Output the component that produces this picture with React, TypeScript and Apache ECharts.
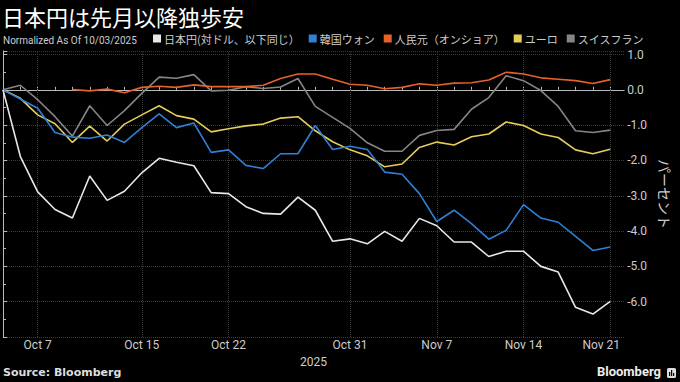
import React, { useEffect, useRef } from "react";
import * as echarts from "echarts";

const dates = [
  "2025-10-03", "2025-10-06", "2025-10-07", "2025-10-08", "2025-10-09", "2025-10-10",
  "2025-10-13", "2025-10-14", "2025-10-15", "2025-10-16", "2025-10-17",
  "2025-10-20", "2025-10-21", "2025-10-22", "2025-10-23", "2025-10-24",
  "2025-10-27", "2025-10-28", "2025-10-29", "2025-10-30", "2025-10-31",
  "2025-11-03", "2025-11-04", "2025-11-05", "2025-11-06", "2025-11-07",
  "2025-11-10", "2025-11-11", "2025-11-12", "2025-11-13", "2025-11-14",
  "2025-11-17", "2025-11-18", "2025-11-19", "2025-11-20", "2025-11-21",
];

const labelDates = ["2025-10-07", "2025-10-15", "2025-10-22", "2025-10-31", "2025-11-07", "2025-11-14", "2025-11-21"];
const labelTexts = ["Oct 7", "Oct 15", "Oct 22", "Oct 31", "Nov 7", "Nov 14", "Nov 21"];

const seriesNames = ["日本円(対ドル、以下同じ）", "韓国ウォン", "人民元（オンショア）", "ユーロ", "スイスフラン"];
const seriesColors = ["#e8e8e8", "#2f80d6", "#e5622a", "#e4cd5a", "#858585"];

const yen = [0, -1.89, -2.89, -3.39, -3.63, -2.44, -3.13, -2.87, -2.35, -1.94, -2.05, -2.15, -2.91, -2.94, -3.31, -3.5, -3.52, -3.04, -3.41, -4.29, -4.22, -4.36, -4.01, -4.29, -3.64, -3.85, -4.31, -4.31, -4.72, -4.57, -4.57, -5.0, -5.16, -6.16, -6.35, -5.99];
const won = [0, -0.26, -0.52, -1.21, -1.34, -1.37, -1.28, -1.49, -1.07, -0.68, -1.07, -0.94, -1.77, -1.7, -2.14, -2.23, -1.81, -1.81, -1.01, -1.69, -1.6, -1.69, -2.33, -2.39, -2.94, -3.73, -3.41, -3.79, -4.23, -3.98, -3.25, -3.63, -3.75, -4.15, -4.55, -4.45];
const yuan = [null, null, null, null, 0.01, -0.03, 0.02, -0.08, 0.07, 0.1, 0.07, 0.14, 0.09, 0.09, 0.09, 0.13, 0.32, 0.45, 0.45, 0.3, 0.16, 0.13, 0.03, 0.07, 0.17, 0.13, 0.19, 0.2, 0.28, 0.5, 0.45, 0.34, 0.3, 0.26, 0.18, 0.29];
const euro = [0, -0.24, -0.71, -0.96, -1.49, -1.03, -1.45, -0.97, -0.71, -0.45, -0.73, -0.83, -1.19, -1.1, -1.02, -0.97, -0.8, -0.76, -1.16, -1.47, -1.7, -1.87, -2.18, -2.1, -1.63, -1.48, -1.56, -1.33, -1.25, -0.91, -1.01, -1.25, -1.35, -1.7, -1.81, -1.68];
const franc = [0, 0.13, -0.28, -0.76, -1.31, -0.45, -1.01, -0.59, -0.1, 0.36, 0.33, 0.43, -0.03, -0.01, 0.09, 0.04, 0.08, 0.32, -0.47, -0.78, -1.09, -1.5, -1.74, -1.74, -1.29, -1.15, -1.12, -0.55, -0.22, 0.4, 0.26, -0.02, -0.47, -1.16, -1.21, -1.14];

const allValues = [yen, won, yuan, euro, franc];

const CJK = '"Noto Sans CJK JP", "Noto Sans", sans-serif';
const LATIN = 'Roboto, "Noto Sans", sans-serif';

export default function App() {
  const ref = useRef<HTMLDivElement>(null);

  useEffect(() => {
    if (!ref.current) return;
    const chart = echarts.init(ref.current, null, { renderer: "svg" });

    const labelMap: Record<number, string> = {};
    labelDates.forEach((d, k) => {
      labelMap[dates.indexOf(d)] = labelTexts[k];
    });
    const lastIdx = dates.length - 1;

    const series: any[] = allValues.map((vals, s) => ({
      name: seriesNames[s],
      type: "line",
      showSymbol: false,
      symbol: "none",
      color: seriesColors[s],
      lineStyle: { width: 1.6, color: seriesColors[s] },
      data: vals
        .map((v, i) => [i, v])
        .filter((p) => p[1] !== null && p[1] !== undefined),
      z: 10 - s,
    }));

    series[0].markLine = {
      silent: true,
      symbol: ["none", "none"],
      label: { show: false },
      lineStyle: { color: "#3c3c3c", type: "dotted", width: 1 },
      data: labelDates.map((d) => ({ xAxis: dates.indexOf(d) })),
      z: 1,
    };

    chart.setOption({
      animation: false,
      backgroundColor: "#000",
      grid: { left: 0, right: 48, top: 51, bottom: 45, containLabel: false },
      legend: {
        data: seriesNames,
        left: 153,
        top: 33,
        padding: 0,
        icon: "rect",
        itemWidth: 8,
        itemHeight: 8,
        itemGap: 9,
        textStyle: { color: "#cccccc", fontSize: 11, fontFamily: CJK, padding: [0, 0, 0, -2] },
      },
      graphic: [
        {
          type: "text",
          left: 2,
          top: 5,
          style: { text: "日本円は先月以降独歩安", fill: "#ffffff", fontSize: 22, fontFamily: CJK },
        },
        {
          type: "text",
          left: 3,
          top: 35,
          style: { text: "Normalized As Of 10/03/2025", fill: "#cccccc", fontSize: 10, fontFamily: LATIN },
        },
        {
          type: "text",
          left: 3,
          top: 367,
          style: { text: "Source: Bloomberg", fill: "#dddddd", fontSize: 11, fontWeight: "bold", fontFamily: '"DejaVu Sans", sans-serif' },
        },
        {
          type: "text",
          right: 19,
          top: 365,
          style: { text: "Bloomberg", fill: "#eeeeee", fontSize: 13, fontWeight: "bold", fontFamily: LATIN },
        },
        {
          type: "group",
          right: 4,
          top: 368,
          children: [
            { type: "rect", shape: { x: 0, y: 0, width: 9, height: 10, r: 1.5 }, style: { fill: "#dddddd" } },
            { type: "rect", shape: { x: 2, y: 4, width: 1.2, height: 4 }, style: { fill: "#000" } },
            { type: "rect", shape: { x: 4, y: 2, width: 1.2, height: 6 }, style: { fill: "#000" } },
            { type: "rect", shape: { x: 6, y: 5, width: 1.2, height: 3 }, style: { fill: "#000" } },
          ],
        },
      ],
      xAxis: {
        type: "value",
        min: 0,
        max: 35.8,
        interval: 1,
        name: "2025",
        nameLocation: "middle",
        nameGap: 13,
        nameTextStyle: { color: "#cccccc", fontSize: 12, fontFamily: LATIN },
        splitLine: { show: false },
        axisLine: { show: true, lineStyle: { color: "#bbbbbb", width: 1 } },
        axisTick: { show: true, inside: true, length: 3, lineStyle: { color: "#bbbbbb" } },
        axisLabel: {
          color: "#cccccc",
          fontSize: 12,
          fontFamily: LATIN,
          margin: 2,
          showMaxLabel: false,
          formatter: (v: number) => {
            const i = Math.round(v);
            if (Math.abs(v - i) > 1e-6) return "";
            const t = labelMap[i];
            if (!t) return "";
            return i === lastIdx ? "{r|" + t + "}" : t;
          },
          rich: {
            r: { color: "#cccccc", fontSize: 12, fontFamily: LATIN, padding: [0, 18, 0, 0] },
          },
        },
      },
      yAxis: {
        type: "value",
        position: "right",
        min: -7,
        max: 1.1,
        interval: 1,
        name: "パーセント",
        nameLocation: "middle",
        nameRotate: -90,
        nameGap: 20,
        nameTextStyle: { color: "#cccccc", fontSize: 14, fontFamily: CJK },
        axisLine: { show: true, lineStyle: { color: "#bbbbbb", width: 1 } },
        axisTick: { show: true, length: 4, lineStyle: { color: "#bbbbbb" } },
        minorTick: { show: true, splitNumber: 2, length: 3, lineStyle: { color: "#bbbbbb" } },
        splitLine: { show: true, lineStyle: { color: "#3c3c3c", type: "dotted", width: 1 } },
        axisLabel: {
          color: "#cccccc",
          fontSize: 12,
          fontFamily: LATIN,
          margin: 3,
          showMaxLabel: false,
          formatter: (v: number) => {
            const r = Math.round(v);
            if (Math.abs(v - r) > 1e-6 || r <= -7) return "";
            return r.toFixed(1);
          },
        },
      },
      series,
    });

    return () => chart.dispose();
  }, []);

  return (
    <div
      ref={ref}
      style={{ position: "fixed", left: 0, top: 0, width: 680, height: 382, background: "#000" }}
    />
  );
}
